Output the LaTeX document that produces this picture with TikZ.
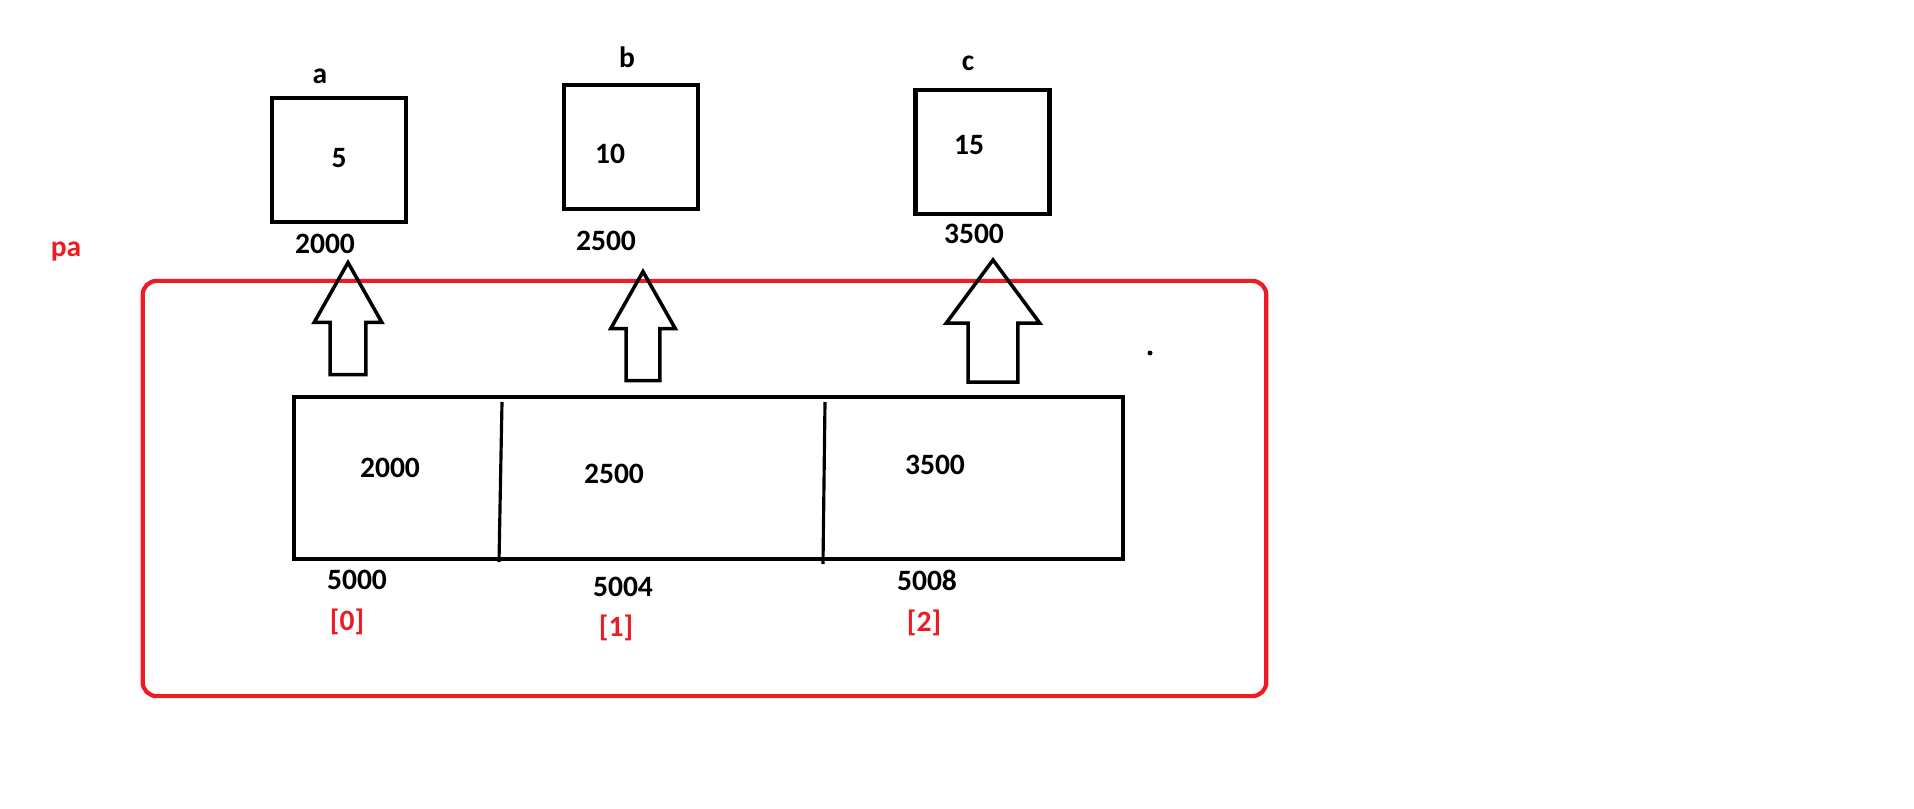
\documentclass[tikz,border=0pt]{standalone}
\usepackage{fontspec}
\setmainfont{Carlito}
\usepackage{xcolor}
\usetikzlibrary{shapes,shapes.arrows}
\definecolor{paintred}{HTML}{ED1C24}

\begin{document}
\begin{tikzpicture}[x=0.01cm,y=-0.01cm,font=\fontsize{8.4}{10}\selectfont\bfseries]
\tikzstyle{var}=[rectangle,draw,line width=1.3pt,minimum width=1.34cm,minimum height=1.24cm,inner sep=0pt]
\tikzstyle{txt}=[inner sep=0pt]
\tikzstyle{idx}=[inner sep=0pt,text=paintred]
\tikzstyle{uparrow}=[single arrow,draw,line width=1pt,shape border rotate=90,single arrow head indent=0pt,anchor=tip]
\tikzstyle{divider}=[line width=0.9pt]
\useasboundingbox (0,0) rectangle (1914,809);
% pointer array frame
\node (pa) [rectangle,draw=paintred,line width=1.2pt,rounded corners=0.14cm,minimum width=11.23cm,minimum height=4.15cm] at (704.5,488.5) {};
\node (paname) [txt,text=paintred] at (66,252) {pa};
% variables
\node (a) [var] at (339,160) {};
\node (b) [var] at (631,147) {};
\node (c) [var] at (982.5,152) {};
\node (la) [txt] at (320,76) {a};
\node (lb) [txt] at (627,57) {b};
\node (lc) [txt] at (968,63) {c};
\node (va) [txt] at (339,158) {5};
\node (vb) [txt] at (610,154) {10};
\node (vc) [txt] at (969,145) {15};
\node (adra) [txt] at (325,244) {2000};
\node (adrb) [txt] at (606,241) {2500};
\node (adrc) [txt] at (974,234) {3500};
% array cells
\node (arr) [rectangle,draw,line width=1.2pt,minimum width=8.29cm,minimum height=1.62cm] at (708.5,478) {};
\draw[divider] (502,402) -- (499,562);
\draw[divider] (825,402) -- (823,564);
\node (p0) [txt] at (390,468) {2000};
\node (p1) [txt] at (614,474) {2500};
\node (p2) [txt] at (935,465) {3500};
\node (m0) [txt] at (357,580) {5000};
\node (m1) [txt] at (623,587) {5004};
\node (m2) [txt] at (927,580) {5008};
\node (i0) [idx] at (347,622) {[0]};
\node (i1) [idx] at (616,628) {[1]};
\node (i2) [idx] at (924,623) {[2]};
% pointers
\node (ua) [uparrow,inner sep=0.16cm,minimum height=1.12cm,minimum width=0.64cm,single arrow head extend=0.16cm,single arrow tip angle=59] at (348,259) {};
\node (ub) [uparrow,inner sep=0.15cm,minimum height=1.09cm,minimum width=0.61cm,single arrow head extend=0.155cm,single arrow tip angle=59] at (643,268) {};
\node (uc) [uparrow,inner sep=0.23cm,minimum height=1.22cm,minimum width=0.90cm,single arrow head extend=0.22cm,single arrow tip angle=73] at (993,257) {};
\fill (1150,353) circle (0.025cm);
\end{tikzpicture}
\end{document}
